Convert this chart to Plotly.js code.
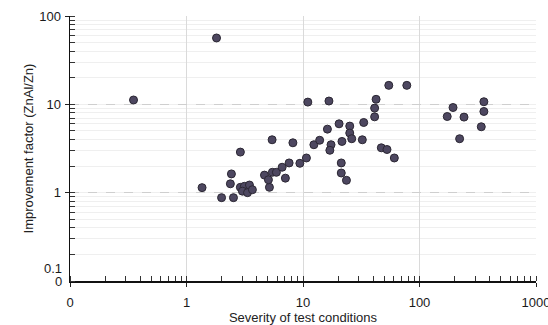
<!DOCTYPE html>
<html>
<head>
<meta charset="utf-8">
<script src="https://cdn.plot.ly/plotly-3.0.1.min.js"></script>
<style>html,body{margin:0;padding:0;background:#fff;}#chart{width:548px;height:325px;}</style>
</head>
<body>
<div id="chart"></div>
<script>
// Severity of test conditions (x) vs improvement factor ZnAl/Zn (y)
const severity = [0.351, 1.81, 1.36, 2.00, 2.53, 2.43, 2.38, 2.90, 2.90, 3.14, 3.47, 3.02, 3.34, 3.68,
  5.15, 4.67, 5.05, 5.46, 5.91, 6.62, 7.06, 7.60, 9.40, 5.43, 8.19, 10.7, 11.0, 16.7, 12.4, 13.9,
  17.4, 17.0, 16.2, 20.4, 25.2, 25.2, 26.2, 21.6, 32.3, 33.2, 21.3, 21.3, 23.6, 41.2, 41.2, 42.4,
  47.0, 52.6, 60.8, 54.5, 77.8, 194, 173, 241, 357, 357, 339, 221];
const improvement = [11.2, 56.4, 1.14, 0.878, 0.878, 1.63, 1.26, 2.88, 1.15, 1.18, 1.22, 1.04, 1.00, 1.08,
  1.15, 1.58, 1.40, 1.70, 1.70, 1.94, 1.46, 2.17, 2.15, 3.97, 3.67, 2.47, 10.6, 10.9, 3.49, 3.92,
  3.49, 3.02, 5.24, 6.02, 5.67, 4.73, 4.08, 3.80, 3.97, 6.23, 2.17, 1.67, 1.38, 7.22, 9.06, 11.4,
  3.22, 3.08, 2.47, 16.4, 16.4, 9.20, 7.28, 7.17, 10.7, 8.30, 5.57, 4.08];
const xTickVals = [0.1, 1, 10, 100, 1000];
const xTickText = ["0", "1", "10", "100", "1000"];
const yTickVals = [1, 10, 100];
const yTickText = ["1", "10", "100"];

const font = "Liberation Sans, Arial, sans-serif";
const tickFont = {family: font, size: 13, color: "#1a1a1a"};

const trace = {
  x: severity, y: improvement, type: "scatter", mode: "markers",
  marker: {size: 8, color: "#4d4760", line: {color: "#2b2733", width: 1}},
  hoverinfo: "x+y"
};

const layout = {
  width: 548, height: 325,
  margin: {l: 70, r: 12, t: 16, b: 44},
  paper_bgcolor: "#fff", plot_bgcolor: "#fff",
  showlegend: false,
  font: {family: font, size: 13, color: "#1a1a1a"},
  xaxis: {
    type: "log", range: [-1, 3],
    tickmode: "array", tickvals: xTickVals, ticktext: xTickText,
    ticks: "outside", ticklen: 4, tickcolor: "#222", tickwidth: 1,
    ticklabelstandoff: 5, ticklabeloverflow: "allow",
    showline: true, linecolor: "#111", linewidth: 1.5,
    showgrid: true, gridcolor: "#dadada", gridwidth: 1,
    zeroline: false,
    minor: {dtick: "D1", ticks: "inside", ticklen: 5, tickcolor: "#333", showgrid: false},
    tickfont: tickFont,
    title: {text: "Severity of test conditions", font: {family: font, size: 13, color: "#222"}, standoff: 1}
  },
  yaxis: {
    type: "log", range: [-1, 2],
    tickmode: "array", tickvals: yTickVals, ticktext: yTickText,
    ticks: "outside", ticklen: 4, tickcolor: "#222", tickwidth: 1,
    ticklabelstandoff: 1, ticklabeloverflow: "allow",
    showline: true, linecolor: "#111", linewidth: 1.5,
    showgrid: true, gridcolor: "#cfcfcf", gridwidth: 1, griddash: "dash",
    zeroline: false,
    minor: {dtick: "D1", ticks: "inside", ticklen: 5, tickcolor: "#333", showgrid: true,
            gridcolor: "#efefef", gridwidth: 1, griddash: "solid"},
    tickfont: tickFont,
    title: {text: "Improvement factor (ZnAl/Zn)", font: {family: font, size: 13, color: "#222"}, standoff: 2}
  },
  annotations: [
    {text: "0.1", xref: "paper", yref: "paper", x: 0, y: 0, xanchor: "right", yanchor: "middle",
     xshift: -6, yshift: 13, showarrow: false, font: tickFont},
    {text: "0", xref: "paper", yref: "paper", x: 0, y: 0, xanchor: "right", yanchor: "middle",
     xshift: -6, yshift: 0, showarrow: false, font: tickFont}
  ]
};

Plotly.newPlot("chart", [trace], layout, {displayModeBar: false, staticPlot: true});
</script>
</body>
</html>
